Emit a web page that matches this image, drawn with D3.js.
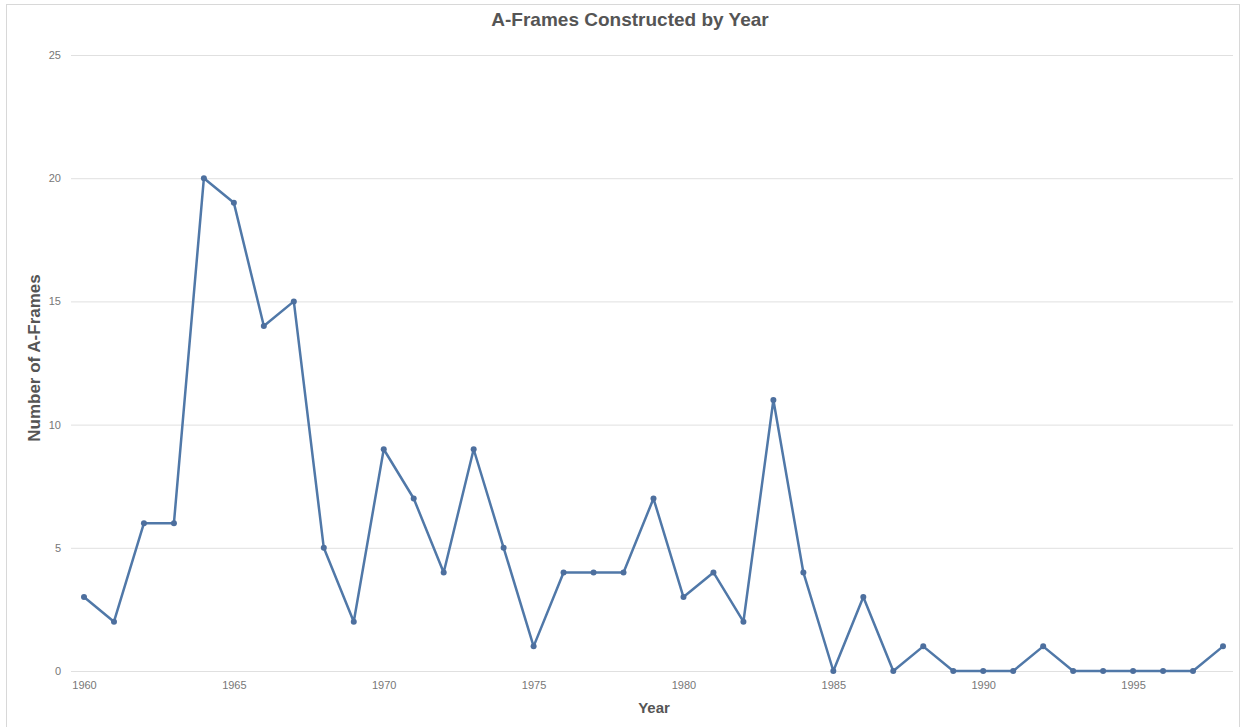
<!DOCTYPE html>
<html><head><meta charset="utf-8">
<script src="https://cdn.jsdelivr.net/npm/d3@7"></script>
<style>body{margin:0;background:#fff;}svg{display:block;font-family:"Liberation Sans",Arial,sans-serif;}</style>
</head><body>
<svg id="c" width="1249" height="727"></svg>
<script>
const years = [1960,1961,1962,1963,1964,1965,1966,1967,1968,1969,1970,1971,1972,1973,1974,1975,1976,1977,1978,1979,1980,1981,1982,1983,1984,1985,1986,1987,1988,1989,1990,1991,1992,1993,1994,1995,1996,1997,1998];
const counts = [3,2,6,6,20,19,14,15,5,2,9,7,4,9,5,1,4,4,4,7,3,4,2,11,4,0,3,0,1,0,0,0,1,0,0,0,0,0,1];
const yTicks = [0,5,10,15,20,25];
const xTicks = [1960,1965,1970,1975,1980,1985,1990,1995];
const title = "A-Frames Constructed by Year";
const xTitle = "Year";
const yTitle = "Number of A-Frames";

const svg = d3.select("#c");
svg.append("rect").attr("x",6.5).attr("y",4.5).attr("width",1233).attr("height",740)
  .attr("fill","none").attr("stroke","#d8d8d8");

const x = d3.scaleLinear().domain([1960,1998]).range([84,1223]);
const y = d3.scaleLinear().domain([0,25]).range([671,55]);
const gx0 = 71, gx1 = 1233;

const yAxis = d3.axisLeft(y).tickValues(yTicks).tickSize(-(gx1-gx0)).tickPadding(10).tickFormat(d3.format("d"));
const gy = svg.append("g").attr("transform",`translate(${gx0},0)`).call(yAxis);
gy.select(".domain").remove();
gy.selectAll(".tick line").attr("stroke","#e0e0e0");
gy.selectAll(".tick text").attr("fill","#777").attr("font-size","11px");

const xAxis = d3.axisBottom(x).tickValues(xTicks).tickSize(0).tickPadding(10).tickFormat(d3.format("d"));
const gxx = svg.append("g").attr("transform",`translate(0,${y(0)})`).call(xAxis);
gxx.select(".domain").remove();
gxx.selectAll(".tick text").attr("fill","#777").attr("font-size","11px");

const line = d3.line().x((d,i)=>x(years[i])).y(d=>y(d));
svg.append("path").datum(counts).attr("d",line).attr("fill","none")
  .attr("stroke","#5078a8").attr("stroke-width",2.5).attr("stroke-linejoin","round");
svg.selectAll("circle.pt").data(counts).join("circle").attr("class","pt")
  .attr("cx",(d,i)=>x(years[i])).attr("cy",d=>y(d)).attr("r",3).attr("fill","#4d6f9e");

svg.append("text").attr("x",630).attr("y",26).attr("text-anchor","middle")
  .attr("font-size","19px").attr("font-weight","bold").attr("fill","#555").text(title);
svg.append("text").attr("x",654).attr("y",713).attr("text-anchor","middle")
  .attr("font-size","15px").attr("font-weight","bold").attr("fill","#555").text(xTitle);
svg.append("text").attr("transform","translate(40,358) rotate(-90)").attr("text-anchor","middle")
  .attr("font-size","17px").attr("font-weight","bold").attr("fill","#555").text(yTitle);
</script>
</body></html>
